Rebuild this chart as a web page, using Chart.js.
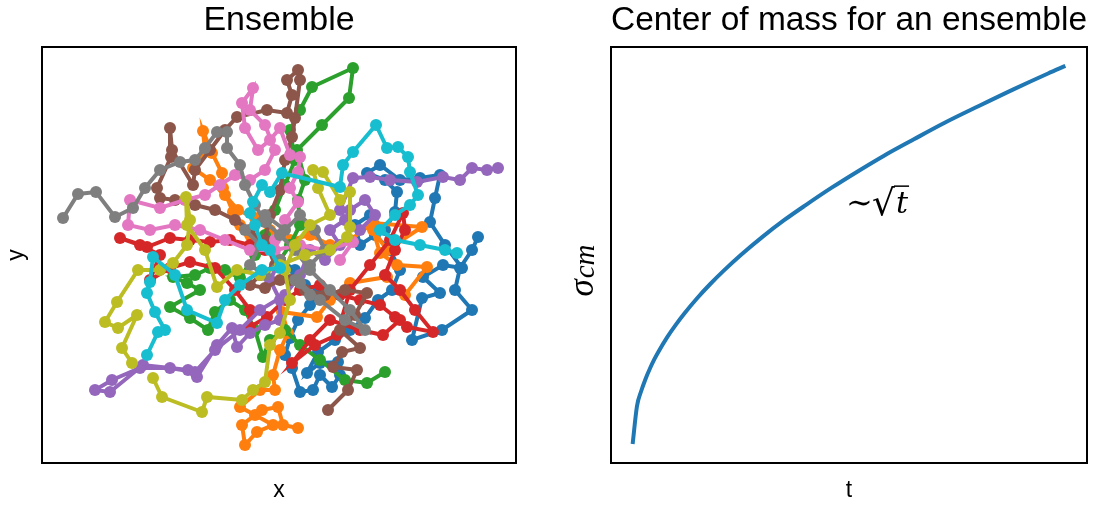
<!DOCTYPE html>
<html>
<head>
<meta charset="utf-8">
<title>Ensemble</title>
<script src="https://cdn.jsdelivr.net/npm/chart.js@4.4.1/dist/chart.umd.min.js"></script>
<style>
  body { margin: 0; background: #ffffff; }
  #wrap { position: relative; width: 1097px; height: 506px; }
  canvas { position: absolute; top: 0; }
</style>
</head>
<body>
<div id="wrap">
  <canvas id="ensembleChart" width="548" height="506" style="left:0"></canvas>
  <canvas id="comChart" width="549" height="506" style="left:548px"></canvas>
</div>
<script>
/**
 * Random walk ensemble + centre of mass spread
 * Walk points, [x, y] per step
 */

const walkBlue = [[0,0],[1.5,-1],[2.5,-2.5],[4,-3],[3,-4.5],[1.8,-6],[1,-7.8],[0.5,-9.5],[1.2,-10.8],[2,-13.2],[3.3,-13],[4,-11.5],[5.2,-12.7],[6,-11.5],[5.8,-10.2],[4,-10.3],[2.7,-11.3],[3.8,-9.2],[5.5,-8],[7,-7],[8.5,-5.8],[9.8,-4],[11.2,-3],[12,-1],[11,1],[9.5,2.5],[8,1.5],[7.5,3.5],[9,4.5],[10.5,3],[11.5,4.8],[11.7,6.8],[10.5,8],[8.7,8.7],[10,9.5],[12,8],[14,8.2],[16,8.5],[15.5,6.2],[15,3.8],[16.5,1.5],[18.2,-0.8],[16.3,-0.5],[14.3,-1.7],[16,-3.3],[14.2,-3.8],[13.2,-8],[16.2,-7],[19.2,-5],[17.5,-3],[18,-0.8],[19.2,1],[19.8,2.3]];

const walkOrange = [[0,0],[-1.5,1.5],[-3,2.5],[-4,3.5],[-4.7,4.8],[-5.7,7.2],[-5.8,8.7],[-6.8,10.7],[-7.7,12.9],[-7.5,11],[-8.7,9.2],[-7,8],[-5.5,6.5],[-4.2,5],[-2.5,4.2],[-1,3],[1,2],[3,2.5],[5,1.5],[7,2],[9.3,3.7],[14.2,3.3],[10.7,1],[9.3,3],[10,0.7],[11.7,-0.5],[14.7,-0.7],[12.5,-3.5],[10.7,-1.7],[7,-2.3],[5,-4],[3.7,-5.7],[0.2,-5.2],[0.8,-7.3],[0,-9],[-0.7,-11.5],[-0.5,-13],[-2,-13],[-4,-14.7],[-2.5,-15.5],[-0.7,-16.5],[-2.3,-17.2],[-3.5,-18.5],[-3.8,-16.5],[-1.8,-15],[-0.2,-14.7],[0.3,-16.5],[1.8,-16.8]];

const walkGreen = [[0,0],[1,1.5],[2,3.5],[1.8,6],[2.5,8],[1.7,11],[4.2,13.5],[6.9,16.2],[7.3,19.2],[3.2,17.3],[2,15],[1,13],[1.5,10],[0.5,7.5],[-0.5,5],[-1.5,2.5],[-2.5,0.5],[-4,-1.8],[-5.5,-1],[-7,-0.8],[-8.5,-1.5],[-10.7,-1.7],[-9.3,-2.3],[-8,-3],[-11,-4.7],[-9,-5.8],[-7.2,-7],[-6.5,-5.2],[-5,-4],[-3.5,-5],[-2.5,-7],[-1.7,-9.7],[-1,-8],[0.5,-7],[2,-8.5],[4,-10],[6.5,-12],[8.7,-12.3],[10.5,-11.2]];

const walkRed = [[0,0],[-1.5,1],[-3,1.5],[-5,2],[-7,1.8],[-9,2],[-11,2.2],[-13.3,1.3],[-16,2.2],[-14,1.5],[-12,0.5],[-13,-2],[-11,-0.8],[-9,-0.2],[-6.5,-0.8],[-4.5,-3],[-3,-5],[-3,-6.7],[-1.3,-5.7],[0.5,-4],[2,-3],[4,-2.5],[6,-3.5],[8,-4],[10,-4.5],[11.5,-5.7],[12.7,-6.7],[15.3,-7.2],[13.5,-5],[12,-3],[10.5,-1.5],[11.5,1],[12.5,3],[12.3,4.7],[11,2],[9,-0.5],[7,-3],[5.7,-7.5],[3.5,-8.5],[1.2,-10.3],[3,-8],[5,-6],[8,-7],[10.3,-7.5],[12,-6]];

const walkPurple = [[0,0],[-1,-2],[0,-4],[0,-6],[-1.5,-6.5],[-3,-7.3],[-4.3,-8.7],[-4.8,-6.8],[-6.3,-8.5],[-8.3,-11.7],[-9.2,-11],[-13.7,-10.5],[-17,-13.2],[-18.5,-13],[-16.8,-12],[-14,-10.8],[-11,-10.8],[-8.5,-11.2],[-6.5,-9],[-4,-7],[-2,-5],[0.5,-3.5],[2,-1.5],[3,1],[4.5,0],[6,1.5],[5,3],[6.5,4],[8,3],[9.5,4.5],[8.5,6],[7,5],[6,5],[7.3,8.2],[9,8.3],[11,8],[13.7,7.8],[16.3,8.3],[18,8],[19.2,9.2],[20.7,9],[21.8,9.2]];

const walkBrown = [[0,0],[-1.5,1.5],[-3,3],[-4.5,4],[-6.5,5],[-8.5,5.5],[-10.5,6],[-12,6.2],[-12.3,7.2],[-10.9,10.3],[-11,13.2],[-10.8,11],[-8.7,7.5],[-8.5,9],[-7,11],[-5.5,13],[-4.3,14.3],[-1.3,15],[0.7,14.7],[1.2,16.5],[0.7,18],[1.8,19],[2,18],[1.5,14.2],[1.2,12.3],[0.5,10],[0,7],[-1,4.5],[-1.5,2],[-0.5,-0.5],[-2,-1.5],[-3,-2.5],[-1.5,-2.8],[0,-2],[1,-2],[2.5,-3],[4.5,-3.5],[6.5,-3],[8.7,-3.3],[7.5,-5.5],[6,-7],[8,-8.8],[6.2,-9.2],[5.3,-10.7],[7.7,-11],[6.8,-13],[4.8,-15]];

const walkPink = [[0,0],[-0.5,2],[0.5,4],[1.8,5.8],[1,7.2],[1.8,8.8],[2,10.3],[1,10.5],[0,13.2],[-1,12],[-2.2,11],[-3.5,13.2],[-3.8,15.7],[-2.7,17.2],[-3,15],[-1.5,13.5],[-0.5,11],[-1.5,9],[-3,8],[-4.5,8.5],[-6,7.5],[-7.5,6.5],[-9.5,6],[-12,5.2],[-15,6],[-15.2,3.5],[-13,3],[-10.5,3.5],[-8,3],[-5.5,2],[-3,1],[-0.5,1],[2,1.5],[4.5,1],[7.3,1.8],[6,0]];

const walkGray = [[0,0],[-1.5,-1.5],[-3,-0.5],[-2,1.5],[-3.5,3],[-1.5,4.5],[0.5,3],[2,4.5],[3.5,3],[4.5,1],[3,-0.5],[1.5,-2],[3,-3.5],[2,-2.3],[4,-4],[6.5,-6],[8.5,-7],[7,-5],[5,-3],[3,-1],[1.5,1],[0,2.5],[-1.5,3.8],[-2.5,5.5],[-3.5,7.5],[-4,9.5],[-5.3,11.2],[-5.3,12.8],[-6.3,12.8],[-7.5,11.2],[-8.5,10],[-10,9.8],[-12,9],[-13.5,7.2],[-14.7,5.2],[-16.5,4.3],[-18.4,6.8],[-20.2,6.6],[-21.7,4.2]];

const walkOlive = [[-14.8,-10.3],[-15.8,-8.8],[-14.3,-5.5],[-16.2,-6.8],[-17.5,-6.2],[-16.3,-4.2],[-14.2,-1],[-12,-1],[-10.7,-0.3],[-9.3,1.5],[-9,4],[-9.4,6.3],[-9.3,3.5],[-7.5,1],[-6.3,-2.7],[-4.3,-1],[-2,-1.5],[0,-0.5],[2.5,0.5],[5,1],[6.7,2.3],[7,3.3],[7,6.8],[6,6],[4.3,8.8],[3.3,9],[3.8,7.2],[5,4.5],[3,3.5],[1.5,1.5],[0.5,-1],[1,-4],[0,-7.3],[-1,-8.5],[-1.5,-12.2],[-2.7,-13],[-3.8,-14],[-7.3,-13.7],[-7.8,-15.2],[-11.8,-13.7],[-12.7,-11.8]];

const walkCyan = [[-13.3,-9.5],[-12.2,-7.2],[-11.5,-7],[-12.5,-5.2],[-13.3,-3.3],[-13,-2.2],[-12.7,0.3],[-10.5,-1.5],[-9.3,-5],[-6.3,-6.3],[-5.5,-4],[-4,-2.5],[-1.8,-1],[0,-0.8],[-1,1],[-1.8,1.5],[-2.5,3.5],[-3,4.7],[-2.7,5.8],[-1.8,7.5],[-1,6.8],[0.2,8.7],[6,7.3],[6.3,9.5],[7.3,10.8],[9.6,13.5],[10.7,11.2],[11.8,11.3],[12.8,10.3],[13,8.8],[13.8,6.5],[13,5.5],[11.5,4.5],[10,3],[11.5,2],[14,1.5],[16.5,1],[17.7,0.7]];

const walks = [walkBlue, walkOrange, walkGreen, walkRed, walkPurple, walkBrown, walkPink, walkGray, walkOlive, walkCyan];
const walkColors = ['#1f77b4', '#ff7f0e', '#2ca02c', '#d62728', '#9467bd', '#8c564b', '#e377c2', '#7f7f7f', '#bcbd22', '#17becf'];

// Centre of mass spread over time
const tValues = [0, 1, 2, 3, 4, 5, 6, 8, 10, 12, 15, 18, 21, 25, 30, 35, 40, 46, 52, 58, 65, 72, 80, 88, 96, 100];
const sigmaValues = [0, 1, 1.41, 1.73, 2, 2.24, 2.45, 2.83, 3.16, 3.46, 3.87, 4.24, 4.58, 5, 5.48, 5.92, 6.32, 6.78, 7.21, 7.62, 8.06, 8.49, 8.94, 9.38, 9.8, 10];

// Annotation position (data units)
const annotT = 50;
const annotSigma = 6.1;

const SANS = 'Liberation Sans';

/**
 * Draws the black box round the plot area
 */
const framePlugin = {
  id: 'frame',
  afterDraw(chart) {
    const { ctx, chartArea: a } = chart;
    ctx.save();
    ctx.strokeStyle = '#000000';
    ctx.lineWidth = 2;
    ctx.strokeRect(a.left, a.top, a.right - a.left, a.bottom - a.top);
    ctx.restore();
  },
};

function axisOptions(min, max, label, fit, titlePadding) {
  return {
    type: 'linear',
    min,
    max,
    ticks: { display: false },
    grid: { display: false },
    border: { display: false },
    title: {
      display: !!label,
      text: label,
      color: '#000000',
      font: { family: SANS, size: 23, lineHeight: 1.2 },
      padding: titlePadding,
    },
    afterFit: fit,
  };
}

function titleOptions(text) {
  return {
    display: true,
    text,
    fullSize: false,
    color: '#000000',
    font: { family: SANS, size: 34, weight: 'normal', lineHeight: 1.2 },
    padding: { top: 0, bottom: 6.2 },
  };
}

/**
 * Left panel: the walks
 */
function renderEnsembleChart() {
  const ctx = document.getElementById('ensembleChart').getContext('2d');

  const datasets = walks.map((walk, i) => ({
    data: walk.map(([x, y]) => ({ x, y })),
    showLine: true,
    borderColor: walkColors[i],
    backgroundColor: walkColors[i],
    borderWidth: 4,
    pointRadius: 6,
    pointBorderWidth: 0,
    pointBackgroundColor: walkColors[i],
    order: walks.length - 1 - i, // first walk at the bottom, like matplotlib
  }));

  return new Chart(ctx, {
    type: 'scatter',
    data: { datasets },
    options: {
      responsive: false,
      animation: false,
      devicePixelRatio: 1,
      layout: { autoPadding: false, padding: { left: 0, top: 0, right: 32, bottom: 0 } },
      plugins: {
        title: titleOptions('Ensemble'),
        legend: { display: false },
        tooltip: { enabled: false },
      },
      scales: {
        x: axisOptions(-23.8, 23.6, 'x', (s) => { s.height = 43; }, { top: 0, bottom: 2 }),
        y: axisOptions(-20.3, 21.3, 'y', (s) => { s.width = 42; }, { top: 3.2, bottom: 0 }),
      },
    },
    plugins: [framePlugin],
  });
}

/**
 * sigma_cm label and the ~sqrt(t) note
 */
const comTextPlugin = {
  id: 'comText',
  afterDraw(chart) {
    const { ctx } = chart;
    const xs = chart.scales.x;
    const ys = chart.scales.y;

    // rotated y label
    ctx.save();
    ctx.fillStyle = '#000000';
    ctx.textBaseline = 'alphabetic';
    ctx.translate(593 - 548, 271);
    ctx.rotate(-Math.PI / 2);
    const sigFont = 'italic 35px "Liberation Serif"';
    const subFont = 'italic 29px "Liberation Serif"';
    ctx.font = sigFont;
    const wSig = ctx.measureText('σ').width;
    ctx.font = subFont;
    const wSub = ctx.measureText('cm').width;
    const x0 = -(wSig + wSub) / 2;
    ctx.font = sigFont;
    ctx.fillText('σ', x0, 0);
    ctx.font = subFont;
    ctx.fillText('cm', x0 + wSig + 1, 1);
    ctx.restore();

    // ~sqrt(t)
    ctx.save();
    ctx.fillStyle = '#000000';
    ctx.strokeStyle = '#000000';
    ctx.textBaseline = 'alphabetic';
    let px = xs.getPixelForValue(annotT);
    const py = ys.getPixelForValue(annotSigma);
    ctx.font = '32px "DejaVu Serif"';
    const tilde = ctx.measureText('∼');
    ctx.fillText('∼', px - 3, py);
    px += tilde.actualBoundingBoxRight - 1;
    ctx.font = '36px "DejaVu Serif"';
    const rad = ctx.measureText('√');
    ctx.fillText('√', px, py + 2);
    const barY = py + 2 - rad.actualBoundingBoxAscent;
    const barStart = px + rad.actualBoundingBoxRight;
    px += rad.actualBoundingBoxRight + 1;
    ctx.font = 'italic 30px "DejaVu Serif"';
    const tw = ctx.measureText('t').width;
    ctx.fillText('t', px, py);
    ctx.lineWidth = 1.5;
    ctx.beginPath();
    ctx.moveTo(barStart - 1, barY + 0.75);
    ctx.lineTo(px + tw + 1, barY + 0.75);
    ctx.stroke();
    ctx.restore();
  },
};

/**
 * Right panel: centre of mass spread
 */
function renderCenterOfMassChart() {
  const ctx = document.getElementById('comChart').getContext('2d');

  return new Chart(ctx, {
    type: 'scatter',
    data: {
      datasets: [
        {
          data: tValues.map((t, i) => ({ x: t, y: sigmaValues[i] })),
          showLine: true,
          borderColor: '#1f77b4',
          borderWidth: 4,
          pointRadius: 0,
          cubicInterpolationMode: 'monotone',
        },
      ],
    },
    options: {
      responsive: false,
      animation: false,
      devicePixelRatio: 1,
      layout: { autoPadding: false, padding: { left: 0, top: 0, right: 10, bottom: 0 } },
      plugins: {
        title: titleOptions('Center of mass for an ensemble'),
        legend: { display: false },
        tooltip: { enabled: false },
      },
      scales: {
        x: axisOptions(-5, 105, 't', (s) => { s.height = 43; }, { top: 0, bottom: 2 }),
        y: axisOptions(-0.5, 10.5, '', (s) => { s.width = 63; }, { top: 0, bottom: 0 }),
      },
    },
    plugins: [framePlugin, comTextPlugin],
  });
}

renderEnsembleChart();
renderCenterOfMassChart();
</script>
</body>
</html>
